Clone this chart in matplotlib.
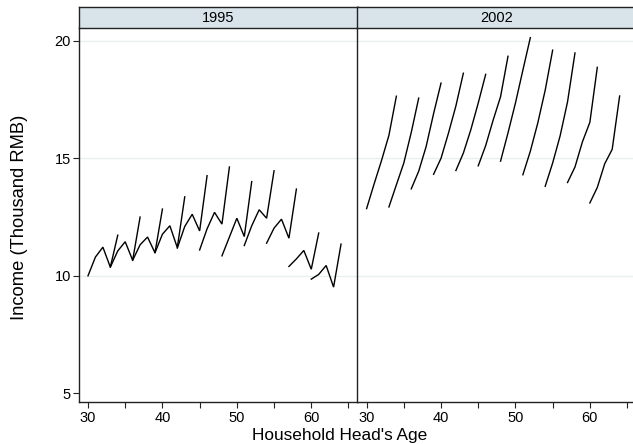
import numpy as np
import matplotlib.pyplot as plt

plt.rcParams['font.family'] = ['Liberation Sans', 'DejaVu Sans']

# cohort start ages, each cohort observed at 5 consecutive ages
cohort_start = [30, 33, 36, 39, 42, 45, 48, 51, 54, 57, 60]
span = 5

inc_1995 = [
    [10.00, 10.80, 11.22, 10.37, 11.73],
    [10.37, 11.06, 11.45, 10.66, 12.50],
    [10.66, 11.32, 11.65, 10.98, 12.84],
    [10.98, 11.77, 12.13, 11.20, 13.36],
    [11.18, 12.10, 12.62, 11.91, 14.26],
    [11.10, 12.00, 12.70, 12.20, 14.63],
    [10.85, 11.65, 12.45, 11.67, 14.01],
    [11.29, 12.13, 12.81, 12.45, 14.47],
    [11.39, 12.03, 12.41, 11.60, 13.69],
    [10.40, 10.72, 11.08, 10.28, 11.82],
    [9.86, 10.06, 10.44, 9.52, 11.35],
]

inc_2002 = [
    [12.86, 13.90, 14.90, 15.98, 17.64],
    [12.93, 13.87, 14.80, 16.10, 17.56],
    [13.70, 14.45, 15.50, 16.90, 18.20],
    [14.32, 15.00, 16.07, 17.23, 18.62],
    [14.48, 15.22, 16.21, 17.35, 18.57],
    [14.68, 15.54, 16.62, 17.62, 19.34],
    [14.88, 16.08, 17.35, 18.75, 20.13],
    [14.30, 15.30, 16.50, 17.90, 19.60],
    [13.81, 14.80, 15.95, 17.40, 19.48],
    [13.97, 14.63, 15.70, 16.53, 18.87],
    [13.10, 13.76, 14.77, 15.38, 17.65],
]

years = ['1995', '2002']
panels = [inc_1995, inc_2002]

W, H = 633, 444
fig = plt.figure(figsize=(W / 100, H / 100), dpi=100)

left_px = [78.7, 357.3]
pw = 279.0
top_px, bot_px = 28.3, 402.3
strip_top = 6.7

xlim = (28.75, 66.24)
ylim = (4.62, 20.53)
strip_col = '#d8e4ea'
grid_col = '#e8f0f1'
spine_col = '#222222'

for i, (yr, data) in enumerate(zip(years, panels)):
    x0 = left_px[i] / W
    ax = fig.add_axes([x0, 1 - bot_px / H, pw / W, (bot_px - top_px) / H])
    for y in [10, 15, 20]:
        ax.axhline(y, color=grid_col, lw=1.0, zorder=0)
    for start, vals in zip(cohort_start, data):
        ages = np.arange(start, start + span)
        ax.plot(ages, vals, color='black', lw=1.0, solid_joinstyle='miter')
    ax.set_xlim(*xlim)
    ax.set_ylim(*ylim)
    ax.set_xticks([30, 40, 50, 60])
    ax.set_xticks([35, 45, 55, 65], minor=True)
    ax.tick_params(axis='x', which='both', length=4, width=0.8,
                   color=spine_col, labelsize=10.5, pad=2)
    for s in ['top', 'right']:
        ax.spines[s].set_visible(False)
    for s in ['left', 'bottom']:
        ax.spines[s].set_color(spine_col)
        ax.spines[s].set_linewidth(1.0)
    if i == 0:
        ax.set_yticks([5, 10, 15, 20])
        ax.tick_params(axis='y', length=4, width=0.8, color=spine_col,
                       labelsize=10.5, pad=1.5)
    else:
        ax.set_yticks([])

    # strip with the year
    sax = fig.add_axes([x0, 1 - top_px / H, pw / W, (top_px - strip_top) / H])
    sax.set_facecolor(strip_col)
    sax.set_xticks([])
    sax.set_yticks([])
    for s in sax.spines.values():
        s.set_color(spine_col)
        s.set_linewidth(1.0)
    sax.text(0.5, 0.5, yr, ha='center', va='center', fontsize=10.5,
             transform=sax.transAxes)

fig.text(340 / W, 1 - 439.5 / H, "Household Head's Age", ha='center',
         va='baseline', fontsize=12.4)
fig.text(20 / W, 1 - 217.5 / H, 'Income (Thousand RMB)', ha='center',
         va='center', rotation=90, fontsize=13.2)

fig.savefig('out.png', dpi=100)
